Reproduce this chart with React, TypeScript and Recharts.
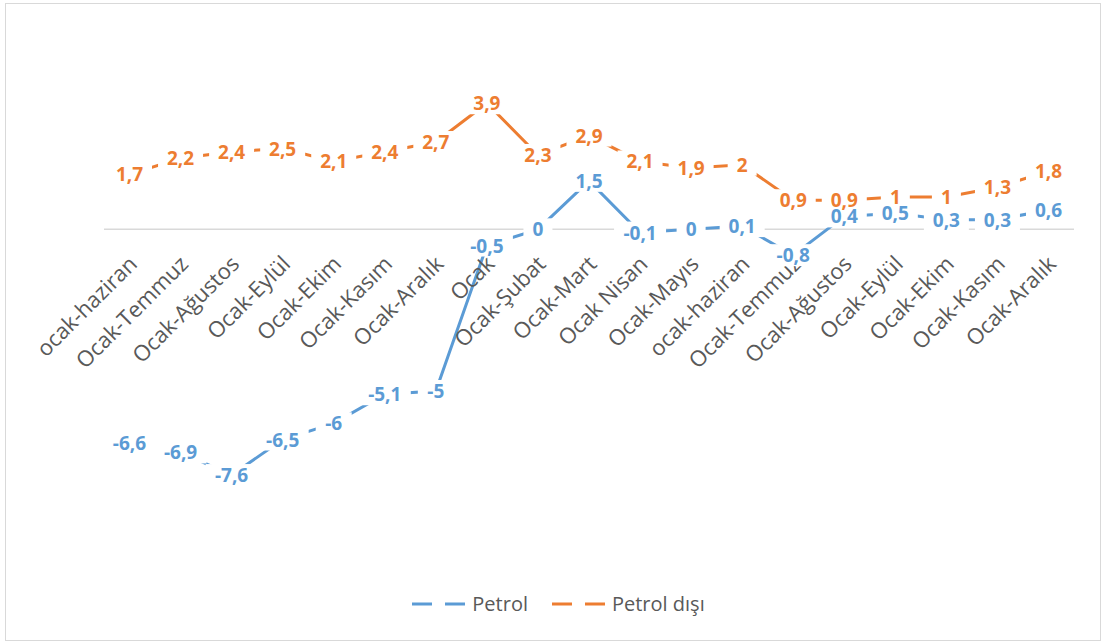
import React from "react"
import { LineChart, Line, XAxis, YAxis, ReferenceLine, LabelList } from "recharts"

const categories = [
  "ocak-haziran", "Ocak-Temmuz", "Ocak-Ağustos", "Ocak-Eylül", "Ocak-Ekim", "Ocak-Kasım", "Ocak-Aralık",
  "Ocak", "Ocak-Şubat", "Ocak-Mart", "Ocak Nisan", "Ocak-Mayıs", "ocak-haziran", "Ocak-Temmuz",
  "Ocak-Ağustos", "Ocak-Eylül", "Ocak-Ekim", "Ocak-Kasım", "Ocak-Aralık",
]
const petrol = [-6.6, -6.9, -7.6, -6.5, -6, -5.1, -5, -0.5, 0, 1.5, -0.1, 0, 0.1, -0.8, 0.4, 0.5, 0.3, 0.3, 0.6]
const petrolDisi = [1.7, 2.2, 2.4, 2.5, 2.1, 2.4, 2.7, 3.9, 2.3, 2.9, 2.1, 1.9, 2, 0.9, 0.9, 1, 1, 1.3, 1.8]

const data = categories.map((name, i) => ({ name, petrol: petrol[i], disi: petrolDisi[i] }))

const W = 1103
const H = 643
const Y_MIN = -8
const Y_MAX = 4
const margin = { top: 100, right: 29, left: 104, bottom: 154 }
const X_AXIS_H = 1
const plotH = H - margin.top - margin.bottom - X_AXIS_H
const zeroY = margin.top + (plotH * Y_MAX) / (Y_MAX - Y_MIN)

const BLUE = "#5B9BD5"
const ORANGE = "#ED7D31"
const FONT = "'Open Sans', sans-serif"

const fmt = (v: number) => String(v).replace(".", ",")

function textWidth(s: string) {
  let w = 0
  for (const ch of s) w += ch === "," ? 5 : ch === "-" ? 7 : 11
  return w
}

// white box behind each data label, hides the line like in the excel original
const LabelBox = (props: any) => {
  const { x, y, value } = props
  const w = textWidth(fmt(value)) + 18
  return <rect x={x - w / 2} y={y - 11} width={w} height={22} fill="#fff" />
}

function makeLabel(color: string) {
  return (props: any) => {
    const { x, y, value } = props
    return (
      <text x={x} y={y} dy={7} textAnchor="middle" fill={color} fontFamily={FONT} fontWeight={700} fontSize={19}>
        {fmt(value)}
      </text>
    )
  }
}

// category labels sit just under the zero line, rotated like excel does
function Tick(props: any) {
  const { x, payload } = props
  const ax = x + 9
  const ay = zeroY + 36
  return (
    <text
      x={ax}
      y={ay}
      transform={`rotate(-45, ${ax}, ${ay})`}
      textAnchor="end"
      fill="#595959"
      fontFamily={FONT}
      fontSize={22}
    >
      {payload.value}
    </text>
  )
}

function LegendItem({ color, label }: { color: string; label: string }) {
  return (
    <div style={{ display: "flex", alignItems: "center", gap: 4 }}>
      <svg width={56} height={10}>
        <line x1={0} y1={5} x2={56} y2={5} stroke={color} strokeWidth={3} strokeDasharray="20 13" />
      </svg>
      <span>{label}</span>
    </div>
  )
}

export default function App() {
  return (
    <div style={{ position: "absolute", left: 0, top: 0, width: W, height: H, background: "#fff" }}>
      <div
        style={{
          position: "absolute",
          left: 5,
          top: 3,
          width: 1096,
          height: 638,
          border: "1.5px solid #d9d9d9",
          boxSizing: "border-box",
        }}
      />
      <div style={{ position: "absolute", left: 0, top: 0 }}>
        <LineChart width={W} height={H} data={data} margin={margin}>
          <YAxis hide domain={[Y_MIN, Y_MAX]} />
          <XAxis
            dataKey="name"
            height={X_AXIS_H}
            axisLine={false}
            tickLine={false}
            interval={0}
            padding={{ left: 25.5, right: 25.5 }}
            tick={<Tick />}
          />
          <ReferenceLine y={0} stroke="#d9d9d9" strokeWidth={1.5} />
          <Line dataKey="petrol" stroke={BLUE} strokeWidth={3} dot={false} isAnimationActive={false} />
          <Line dataKey="disi" stroke={ORANGE} strokeWidth={3} dot={false} isAnimationActive={false} />
          <Line dataKey="petrol" stroke="none" dot={false} isAnimationActive={false}>
            <LabelList dataKey="petrol" content={LabelBox} />
          </Line>
          <Line dataKey="disi" stroke="none" dot={false} isAnimationActive={false}>
            <LabelList dataKey="disi" content={LabelBox} />
          </Line>
          <Line dataKey="petrol" stroke="none" dot={false} isAnimationActive={false}>
            <LabelList dataKey="petrol" content={makeLabel(BLUE)} />
          </Line>
          <Line dataKey="disi" stroke="none" dot={false} isAnimationActive={false}>
            <LabelList dataKey="disi" content={makeLabel(ORANGE)} />
          </Line>
        </LineChart>
      </div>
      <div
        style={{
          position: "absolute",
          left: 0,
          width: W,
          top: 590,
          display: "flex",
          justifyContent: "center",
          gap: 24,
          fontFamily: FONT,
          fontSize: 20,
          color: "#595959",
          paddingLeft: 14,
          boxSizing: "border-box",
        }}
      >
        <LegendItem color={BLUE} label="Petrol" />
        <LegendItem color={ORANGE} label="Petrol dışı" />
      </div>
    </div>
  )
}
